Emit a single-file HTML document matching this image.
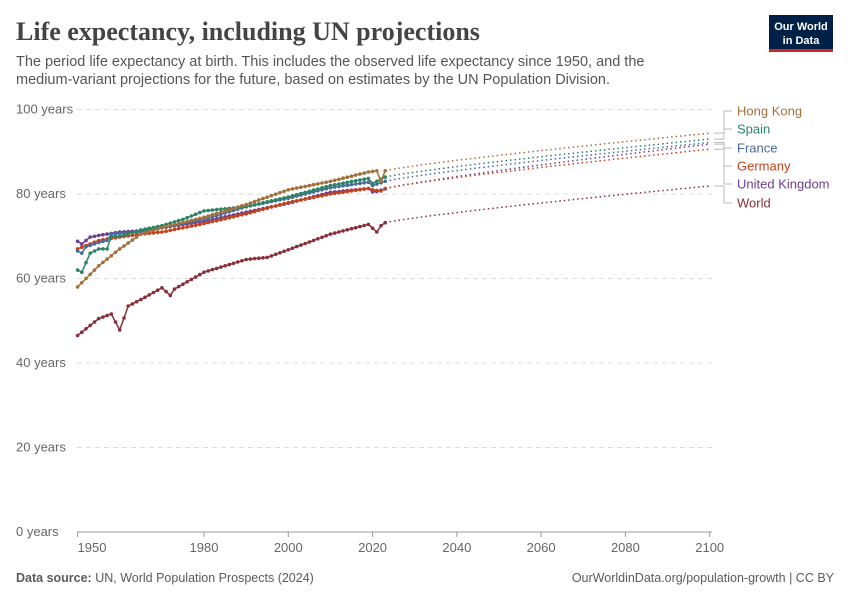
<!DOCTYPE html><html><head><meta charset="utf-8"><style>
body{margin:0;background:#fff;font-family:"Liberation Sans",sans-serif}
</style></head><body>
<svg id="s" width="850" height="600" xmlns="http://www.w3.org/2000/svg" style="display:block">
<text x="16" y="40" font-family="Liberation Serif,serif" font-size="26" font-weight="bold" fill="#444">Life expectancy, including UN projections</text>
<text x="16" y="66" font-size="14.5" fill="#555">The period life expectancy at birth. This includes the observed life expectancy since 1950, and the</text>
<text x="16" y="84" font-size="14.5" fill="#555">medium-variant projections for the future, based on estimates by the UN Population Division.</text>
<rect x="769" y="15" width="64" height="35" fill="#002147"/>
<rect x="769" y="49" width="64" height="3" fill="#ce261e"/>
<text x="801" y="30" font-size="11" fill="#fff" text-anchor="middle" font-weight="bold">Our World</text>
<text x="801" y="44" font-size="11" fill="#fff" text-anchor="middle" font-weight="bold">in Data</text>
<text x="16" y="582" font-size="12.5" fill="#5b5b5b"><tspan font-weight="bold">Data source:</tspan> UN, World Population Prospects (2024)</text>
<text x="834" y="582" font-size="12.5" fill="#5b5b5b" text-anchor="end">OurWorldinData.org/population-growth | CC BY</text>
<g id="g"></g>
</svg>
<script>
var NS="http://www.w3.org/2000/svg",g=document.getElementById('g');
function X(y){return 77.6+(y-1950)*4.214}function Y(v){return 532-v*4.225}
function el(t,a,p){var e=document.createElementNS(NS,t);for(var k in a)e.setAttribute(k,a[k]);(p||g).appendChild(e);return e}
[0,20,40,60,80,100].forEach(function(v){
 if(v>0)el('line',{x1:77,x2:712,y1:Y(v),y2:Y(v),stroke:'#ddd','stroke-dasharray':'5,4'});
 var t=el('text',{x:16,y:Y(v)+4,'font-size':13,fill:'#666'});t.textContent=v+' years';});
el('line',{x1:77,x2:712,y1:532,y2:532,stroke:'#999'});
[1950,1980,2000,2020,2040,2060,2080,2100].forEach(function(y){
 el('line',{x1:X(y),x2:X(y),y1:532,y2:537,stroke:'#999'});
 var t=el('text',{x:y==1950?92:X(y),y:552,'font-size':13,fill:'#666','text-anchor':'middle'});t.textContent=y;});
var S=[
['World','#883039',[[1950,46.5],[1955,50.5],[1958,51.6],[1960,47.8],[1962,53.5],[1965,55],[1970,57.8],[1972,56],[1973,57.5],[1980,61.5],[1990,64.5],[1995,65],[2000,66.8],[2010,70.5],[2019,72.8],[2021,71],[2022,72.5],[2023,73.2]],81.9,203],
['United Kingdom','#6d3e91',[[1950,68.8],[1951,68.2],[1953,69.8],[1955,70.2],[1960,71],[1965,71.3],[1970,72],[1980,73.5],[1990,75.7],[2000,77.8],[2010,80.4],[2019,81.3],[2020,80.5],[2021,80.6],[2023,81.2]],91.8,184],
['Germany','#c4421a',[[1950,67],[1955,69],[1960,69.8],[1965,70.5],[1970,71],[1980,73],[1990,75.3],[2000,78],[2010,80],[2019,81.3],[2020,81],[2022,80.7],[2023,81.3]],90.6,166],
['France','#4c6a9c',[[1950,66.5],[1951,66],[1952,67.5],[1955,68.5],[1957,69],[1958,70.5],[1965,71],[1970,72],[1980,74],[1990,77],[2000,79],[2010,81.5],[2019,82.8],[2020,82],[2023,83]],92.2,148],
['Spain','#2b8465',[[1950,62],[1951,61.5],[1953,66],[1955,67],[1957,67],[1958,70],[1960,70],[1965,71.5],[1970,72.5],[1975,74],[1980,76],[1985,76.5],[1990,77],[2000,79.3],[2010,82],[2019,83.7],[2020,82.5],[2021,83],[2023,84]],93,129],
['Hong Kong','#a2713b',[[1950,58],[1955,63],[1960,67],[1965,70.5],[1970,72],[1980,74.5],[1990,77.5],[2000,81],[2010,83],[2019,85.2],[2021,85.5],[2022,83],[2023,85.5]],94.4,111]];
function interp(k,y){for(var i=0;i<k.length-1;i++)if(y>=k[i][0]&&y<=k[i+1][0]){var a=k[i],b=k[i+1];return a[1]+(b[1]-a[1])*(y-a[0])/(b[0]-a[0]);}return k[k.length-1][1]}
S.forEach(function(s){
 var k=s[2],pts=[];for(var y=1950;y<=2023;y++)pts.push(X(y).toFixed(1)+','+Y(interp(k,y)).toFixed(1));
 el('polyline',{points:pts.join(' '),fill:'none',stroke:s[1],'stroke-width':1.5});
 pts.forEach(function(p){var q=p.split(',');el('circle',{cx:q[0],cy:q[1],r:1.8,fill:s[1]});});
 var v0=k[k.length-1][1],pp=[];for(var y=2023;y<=2100;y++){var v=v0+(s[3]-v0)*Math.pow((y-2023)/77,0.85);pp.push(X(y).toFixed(1)+','+Y(v).toFixed(1));}
 el('polyline',{points:pp.join(' '),fill:'none',stroke:s[1],'stroke-width':1.5,'stroke-dasharray':'1.5,3'});
 var ey=Y(s[3]),ly=s[4];
 el('polyline',{points:'714,'+ey+' 724,'+ey+' 724,'+ly+' 732,'+ly,fill:'none',stroke:'#bbb'});
 var t=el('text',{x:737,y:ly+4.5,'font-size':13,fill:s[1]});t.textContent=s[0];});
</script>
</body></html>
